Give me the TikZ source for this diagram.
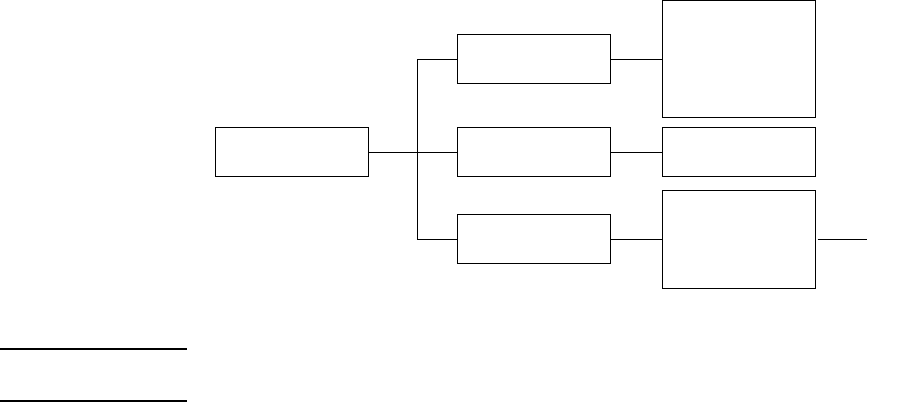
\documentclass[tikz,border=0pt]{standalone}
\usetikzlibrary{positioning,calc}

\begin{document}
\begin{tikzpicture}[
    node distance=1.275cm,
    block/.style={draw, line width=0.7pt, minimum width=3.825cm, minimum height=1.225cm, inner sep=0pt},
    tallblock/.style={block, minimum height=2.925cm},
    midblock/.style={block, minimum height=2.45cm},
    link/.style={line width=0.7pt},
    rule/.style={line width=1.2pt}
]
\useasboundingbox (0,0) rectangle (22.5,-10.1);
\node[block] (input) at (7.29,-3.81) {};
\node[block, right=2.2cm of input] (stageB) {};
\node[block, above=1.075cm of stageB] (stageA) {};
\node[block, below=0.925cm of stageB] (stageC) {};
\node[tallblock, right=of stageA] (outA) {};
\node[block, right=of stageB] (outB) {};
\node[midblock, right=of stageC] (outC) {};
\coordinate (split) at ($(input.east)!0.56!(stageB.west)$);
\coordinate[right=1.275cm of outC] (exit);
\draw[link] (input) -- (stageB);
\draw[link] (split) |- (stageA.west);
\draw[link] (split) |- (stageC.west);
\draw[link] (stageA) -- (outA);
\draw[link] (stageB) -- (outB);
\draw[link] (stageC) -- (outC);
\draw[link] ([xshift=0.05cm]outC.east) -- (exit);
% rules at lower left
\draw[rule] (0,-8.725) -- (4.675,-8.725);
\draw[rule] (0,-10.025) -- (4.675,-10.025);
\end{tikzpicture}
\end{document}
